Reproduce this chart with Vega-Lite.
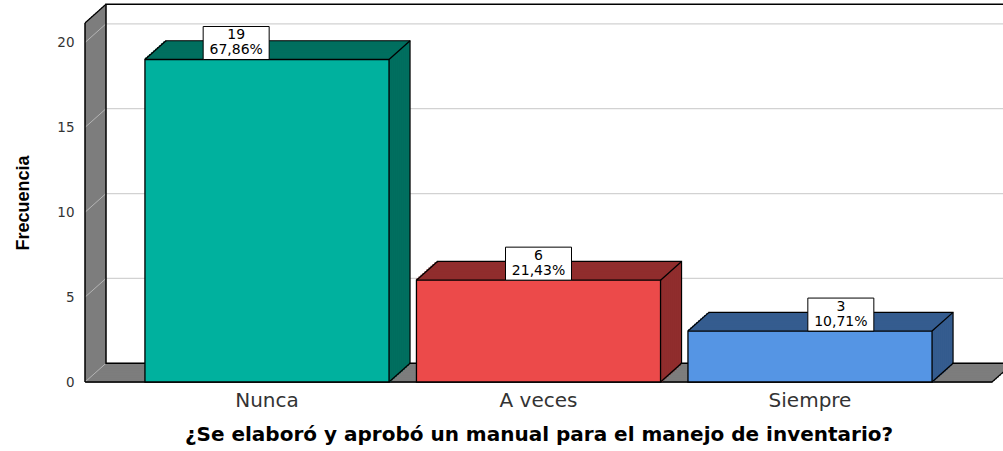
{
  "$schema": "https://vega.github.io/schema/vega-lite/v6.json",
  "width": 907,
  "height": 359,
  "autosize": "none",
  "padding": {"left": 85, "top": 23, "right": 11, "bottom": 69},
  "background": "white",
  "config": {"view": {"stroke": null}, "axis": {"grid": false}},
  "data": {"values": [{}]},
  "datasets": {
    "bars": [
      {"cat": "Nunca", "n": 19, "pct": "67,86%"},
      {"cat": "A veces", "n": 6, "pct": "21,43%"},
      {"cat": "Siempre", "n": 3, "pct": "10,71%"}
    ],
    "ticks": [{"v": 0}, {"v": 5}, {"v": 10}, {"v": 15}, {"v": 20}]
  },
  "resolve": {"scale": {"x": "independent"}},
  "layer": [
    {"mark": {"type": "rect", "fill": "white", "xOffset": 21, "x2Offset": 21, "yOffset": -18.7, "y2Offset": -18.7},
     "encoding": {"x": {"datum": 0, "type": "quantitative", "scale": {"domain": [0, 1], "nice": false, "zero": false}, "axis": null}, "x2": {"datum": 1},
                  "y": {"datum": 0, "type": "quantitative", "scale": {"domain": [0, 21.15], "nice": false},
                        "axis": {"title": "Frecuencia", "values": [0, 5, 10, 15, 20], "domain": false, "ticks": false, "grid": false,
                                 "labelFont": "DejaVu Sans", "labelFontSize": 13.5, "labelColor": "#333333", "labelPadding": 11,
                                 "titleFont": "Liberation Sans", "titleFontSize": 18, "titleFontWeight": "bold", "titleColor": "#000000", "titlePadding": 24}},
                  "y2": {"datum": 21.15}}},
    {"data": {"name": "ticks"}, "mark": {"type": "rule", "stroke": "#d2d2d2", "strokeWidth": 1.3, "xOffset": 21, "x2Offset": 21, "yOffset": -18.7},
     "encoding": {"x": {"datum": 0, "type": "quantitative", "scale": {"domain": [0, 1], "nice": false, "zero": false}, "axis": null}, "x2": {"datum": 1},
                  "y": {"field": "v", "type": "quantitative", "scale": {"domain": [0, 21.15], "nice": false}}}},
    {"mark": {"type": "rule", "stroke": "#7d7d7d", "strokeWidth": 3, "xOffset": 1.5, "yOffset": -1.34, "y2Offset": -1.34}, "encoding": {"x": {"datum": 0, "type": "quantitative", "scale": {"domain": [0, 1], "nice": false, "zero": false}, "axis": null}, "y": {"datum": 0, "type": "quantitative", "scale": {"domain": [0, 21.15], "nice": false}}, "y2": {"datum": 21.15}}},
    {"mark": {"type": "rule", "stroke": "#7d7d7d", "strokeWidth": 3, "xOffset": 3.5, "yOffset": -3.12, "y2Offset": -3.12}, "encoding": {"x": {"datum": 0, "type": "quantitative", "scale": {"domain": [0, 1], "nice": false, "zero": false}, "axis": null}, "y": {"datum": 0, "type": "quantitative", "scale": {"domain": [0, 21.15], "nice": false}}, "y2": {"datum": 21.15}}},
    {"mark": {"type": "rule", "stroke": "#7d7d7d", "strokeWidth": 3, "xOffset": 5.5, "yOffset": -4.9, "y2Offset": -4.9}, "encoding": {"x": {"datum": 0, "type": "quantitative", "scale": {"domain": [0, 1], "nice": false, "zero": false}, "axis": null}, "y": {"datum": 0, "type": "quantitative", "scale": {"domain": [0, 21.15], "nice": false}}, "y2": {"datum": 21.15}}},
    {"mark": {"type": "rule", "stroke": "#7d7d7d", "strokeWidth": 3, "xOffset": 7.5, "yOffset": -6.68, "y2Offset": -6.68}, "encoding": {"x": {"datum": 0, "type": "quantitative", "scale": {"domain": [0, 1], "nice": false, "zero": false}, "axis": null}, "y": {"datum": 0, "type": "quantitative", "scale": {"domain": [0, 21.15], "nice": false}}, "y2": {"datum": 21.15}}},
    {"mark": {"type": "rule", "stroke": "#7d7d7d", "strokeWidth": 3, "xOffset": 9.5, "yOffset": -8.46, "y2Offset": -8.46}, "encoding": {"x": {"datum": 0, "type": "quantitative", "scale": {"domain": [0, 1], "nice": false, "zero": false}, "axis": null}, "y": {"datum": 0, "type": "quantitative", "scale": {"domain": [0, 21.15], "nice": false}}, "y2": {"datum": 21.15}}},
    {"mark": {"type": "rule", "stroke": "#7d7d7d", "strokeWidth": 3, "xOffset": 11.5, "yOffset": -10.24, "y2Offset": -10.24}, "encoding": {"x": {"datum": 0, "type": "quantitative", "scale": {"domain": [0, 1], "nice": false, "zero": false}, "axis": null}, "y": {"datum": 0, "type": "quantitative", "scale": {"domain": [0, 21.15], "nice": false}}, "y2": {"datum": 21.15}}},
    {"mark": {"type": "rule", "stroke": "#7d7d7d", "strokeWidth": 3, "xOffset": 13.5, "yOffset": -12.02, "y2Offset": -12.02}, "encoding": {"x": {"datum": 0, "type": "quantitative", "scale": {"domain": [0, 1], "nice": false, "zero": false}, "axis": null}, "y": {"datum": 0, "type": "quantitative", "scale": {"domain": [0, 21.15], "nice": false}}, "y2": {"datum": 21.15}}},
    {"mark": {"type": "rule", "stroke": "#7d7d7d", "strokeWidth": 3, "xOffset": 15.5, "yOffset": -13.8, "y2Offset": -13.8}, "encoding": {"x": {"datum": 0, "type": "quantitative", "scale": {"domain": [0, 1], "nice": false, "zero": false}, "axis": null}, "y": {"datum": 0, "type": "quantitative", "scale": {"domain": [0, 21.15], "nice": false}}, "y2": {"datum": 21.15}}},
    {"mark": {"type": "rule", "stroke": "#7d7d7d", "strokeWidth": 3, "xOffset": 17.5, "yOffset": -15.58, "y2Offset": -15.58}, "encoding": {"x": {"datum": 0, "type": "quantitative", "scale": {"domain": [0, 1], "nice": false, "zero": false}, "axis": null}, "y": {"datum": 0, "type": "quantitative", "scale": {"domain": [0, 21.15], "nice": false}}, "y2": {"datum": 21.15}}},
    {"mark": {"type": "rule", "stroke": "#7d7d7d", "strokeWidth": 3, "xOffset": 19.5, "yOffset": -17.36, "y2Offset": -17.36}, "encoding": {"x": {"datum": 0, "type": "quantitative", "scale": {"domain": [0, 1], "nice": false, "zero": false}, "axis": null}, "y": {"datum": 0, "type": "quantitative", "scale": {"domain": [0, 21.15], "nice": false}}, "y2": {"datum": 21.15}}},
    {"mark": {"type": "rule", "stroke": "#7d7d7d", "strokeWidth": 3.5, "xOffset": 1, "x2Offset": 1, "yOffset": -0.89}, "encoding": {"x": {"datum": 0, "type": "quantitative", "scale": {"domain": [0, 1], "nice": false, "zero": false}, "axis": null}, "x2": {"datum": 1}, "y": {"datum": 0, "type": "quantitative", "scale": {"domain": [0, 21.15], "nice": false}}}},
    {"mark": {"type": "rule", "stroke": "#7d7d7d", "strokeWidth": 3.5, "xOffset": 3, "x2Offset": 3, "yOffset": -2.67}, "encoding": {"x": {"datum": 0, "type": "quantitative", "scale": {"domain": [0, 1], "nice": false, "zero": false}, "axis": null}, "x2": {"datum": 1}, "y": {"datum": 0, "type": "quantitative", "scale": {"domain": [0, 21.15], "nice": false}}}},
    {"mark": {"type": "rule", "stroke": "#7d7d7d", "strokeWidth": 3.5, "xOffset": 5, "x2Offset": 5, "yOffset": -4.45}, "encoding": {"x": {"datum": 0, "type": "quantitative", "scale": {"domain": [0, 1], "nice": false, "zero": false}, "axis": null}, "x2": {"datum": 1}, "y": {"datum": 0, "type": "quantitative", "scale": {"domain": [0, 21.15], "nice": false}}}},
    {"mark": {"type": "rule", "stroke": "#7d7d7d", "strokeWidth": 3.5, "xOffset": 7, "x2Offset": 7, "yOffset": -6.23}, "encoding": {"x": {"datum": 0, "type": "quantitative", "scale": {"domain": [0, 1], "nice": false, "zero": false}, "axis": null}, "x2": {"datum": 1}, "y": {"datum": 0, "type": "quantitative", "scale": {"domain": [0, 21.15], "nice": false}}}},
    {"mark": {"type": "rule", "stroke": "#7d7d7d", "strokeWidth": 3.5, "xOffset": 9, "x2Offset": 9, "yOffset": -8.01}, "encoding": {"x": {"datum": 0, "type": "quantitative", "scale": {"domain": [0, 1], "nice": false, "zero": false}, "axis": null}, "x2": {"datum": 1}, "y": {"datum": 0, "type": "quantitative", "scale": {"domain": [0, 21.15], "nice": false}}}},
    {"mark": {"type": "rule", "stroke": "#7d7d7d", "strokeWidth": 3.5, "xOffset": 11, "x2Offset": 11, "yOffset": -9.8}, "encoding": {"x": {"datum": 0, "type": "quantitative", "scale": {"domain": [0, 1], "nice": false, "zero": false}, "axis": null}, "x2": {"datum": 1}, "y": {"datum": 0, "type": "quantitative", "scale": {"domain": [0, 21.15], "nice": false}}}},
    {"mark": {"type": "rule", "stroke": "#7d7d7d", "strokeWidth": 3.5, "xOffset": 13, "x2Offset": 13, "yOffset": -11.58}, "encoding": {"x": {"datum": 0, "type": "quantitative", "scale": {"domain": [0, 1], "nice": false, "zero": false}, "axis": null}, "x2": {"datum": 1}, "y": {"datum": 0, "type": "quantitative", "scale": {"domain": [0, 21.15], "nice": false}}}},
    {"mark": {"type": "rule", "stroke": "#7d7d7d", "strokeWidth": 3.5, "xOffset": 15, "x2Offset": 15, "yOffset": -13.36}, "encoding": {"x": {"datum": 0, "type": "quantitative", "scale": {"domain": [0, 1], "nice": false, "zero": false}, "axis": null}, "x2": {"datum": 1}, "y": {"datum": 0, "type": "quantitative", "scale": {"domain": [0, 21.15], "nice": false}}}},
    {"mark": {"type": "rule", "stroke": "#7d7d7d", "strokeWidth": 3.5, "xOffset": 17, "x2Offset": 17, "yOffset": -15.14}, "encoding": {"x": {"datum": 0, "type": "quantitative", "scale": {"domain": [0, 1], "nice": false, "zero": false}, "axis": null}, "x2": {"datum": 1}, "y": {"datum": 0, "type": "quantitative", "scale": {"domain": [0, 21.15], "nice": false}}}},
    {"mark": {"type": "rule", "stroke": "#7d7d7d", "strokeWidth": 3, "xOffset": 19, "x2Offset": 19, "yOffset": -16.92}, "encoding": {"x": {"datum": 0, "type": "quantitative", "scale": {"domain": [0, 1], "nice": false, "zero": false}, "axis": null}, "x2": {"datum": 1}, "y": {"datum": 0, "type": "quantitative", "scale": {"domain": [0, 21.15], "nice": false}}}},
    {"data": {"name": "ticks"}, "mark": {"type": "rule", "stroke": "#b5b5b5", "strokeWidth": 1, "x2Offset": 21, "y2Offset": -18.7},
     "encoding": {"x": {"datum": 0, "type": "quantitative", "scale": {"domain": [0, 1], "nice": false, "zero": false}, "axis": null}, "x2": {"datum": 0},
                  "y": {"field": "v", "type": "quantitative", "scale": {"domain": [0, 21.15], "nice": false}}, "y2": {"field": "v"}}},
    {"mark": {"type": "rect", "filled": false, "stroke": "#000", "strokeWidth": 1.5, "xOffset": 21, "x2Offset": 21, "yOffset": -18.7, "y2Offset": -18.7},
     "encoding": {"x": {"datum": 0, "type": "quantitative", "scale": {"domain": [0, 1], "nice": false, "zero": false}, "axis": null}, "x2": {"datum": 1},
                  "y": {"datum": 0, "type": "quantitative", "scale": {"domain": [0, 21.15], "nice": false}}, "y2": {"datum": 21.15}}},
    {"mark": {"type": "rule", "stroke": "#000", "strokeWidth": 1.2, "x2Offset": 21, "y2Offset": -18.7},
     "encoding": {"x": {"datum": 0, "type": "quantitative", "scale": {"domain": [0, 1], "nice": false, "zero": false}, "axis": null}, "x2": {"datum": 0},
                  "y": {"datum": 21.15, "type": "quantitative", "scale": {"domain": [0, 21.15], "nice": false}}, "y2": {"datum": 21.15}}},
    {"mark": {"type": "rule", "stroke": "#000", "strokeWidth": 1.2, "x2Offset": 21, "y2Offset": -18.7},
     "encoding": {"x": {"datum": 1, "type": "quantitative", "scale": {"domain": [0, 1], "nice": false, "zero": false}, "axis": null}, "x2": {"datum": 1},
                  "y": {"datum": 0, "type": "quantitative", "scale": {"domain": [0, 21.15], "nice": false}}, "y2": {"datum": 0}}},
    {"mark": {"type": "rule", "stroke": "#000", "strokeWidth": 1.5},
     "encoding": {"x": {"datum": 0, "type": "quantitative", "scale": {"domain": [0, 1], "nice": false, "zero": false}, "axis": null}, "x2": {"datum": 1},
                  "y": {"datum": 0, "type": "quantitative", "scale": {"domain": [0, 21.15], "nice": false}}}},
    {"mark": {"type": "rule", "stroke": "#000", "strokeWidth": 1.5},
     "encoding": {"x": {"datum": 0, "type": "quantitative", "scale": {"domain": [0, 1], "nice": false, "zero": false}, "axis": null},
                  "y": {"datum": 0, "type": "quantitative", "scale": {"domain": [0, 21.15], "nice": false}}, "y2": {"datum": 21.15}}},
    {"data": {"name": "bars"}, "mark": {"type": "bar", "stroke": "#000", "strokeWidth": 1.2, "xOffset": 21, "x2Offset": 21, "yOffset": -18.7, "y2Offset": -18.7},
     "encoding": {"x": {"field": "cat", "type": "nominal", "sort": ["Nunca", "A veces", "Siempre"], "scale": {"paddingInner": 0.101, "paddingOuter": 0.2208}, "axis": null},
                  "y": {"field": "n", "type": "quantitative", "scale": {"domain": [0, 21.15], "nice": false}},
                  "fill": {"field": "cat", "type": "nominal", "scale": {"domain": ["Nunca", "A veces", "Siempre"], "range": ["#006f5f", "#902d2d", "#355c8f"]}, "legend": null}}},
    {"data": {"name": "bars"}, "mark": {"type": "bar", "strokeWidth": 2, "xOffset": 19, "x2Offset": 19, "yOffset": -16.92, "y2Offset": -16.92}, "encoding": {"x": {"field": "cat", "type": "nominal", "sort": ["Nunca", "A veces", "Siempre"], "scale": {"paddingInner": 0.101, "paddingOuter": 0.2208}, "axis": null}, "y": {"field": "n", "type": "quantitative", "scale": {"domain": [0, 21.15], "nice": false}}, "fill": {"field": "cat", "type": "nominal", "scale": {"domain": ["Nunca", "A veces", "Siempre"], "range": ["#006f5f", "#902d2d", "#355c8f"]}, "legend": null}, "stroke": {"field": "cat", "type": "nominal", "scale": {"domain": ["Nunca", "A veces", "Siempre"], "range": ["#006f5f", "#902d2d", "#355c8f"]}, "legend": null}}},
    {"data": {"name": "bars"}, "mark": {"type": "bar", "strokeWidth": 2, "xOffset": 17, "x2Offset": 17, "yOffset": -15.14, "y2Offset": -15.14}, "encoding": {"x": {"field": "cat", "type": "nominal", "sort": ["Nunca", "A veces", "Siempre"], "scale": {"paddingInner": 0.101, "paddingOuter": 0.2208}, "axis": null}, "y": {"field": "n", "type": "quantitative", "scale": {"domain": [0, 21.15], "nice": false}}, "fill": {"field": "cat", "type": "nominal", "scale": {"domain": ["Nunca", "A veces", "Siempre"], "range": ["#006f5f", "#902d2d", "#355c8f"]}, "legend": null}, "stroke": {"field": "cat", "type": "nominal", "scale": {"domain": ["Nunca", "A veces", "Siempre"], "range": ["#006f5f", "#902d2d", "#355c8f"]}, "legend": null}}},
    {"data": {"name": "bars"}, "mark": {"type": "bar", "strokeWidth": 2, "xOffset": 15, "x2Offset": 15, "yOffset": -13.36, "y2Offset": -13.36}, "encoding": {"x": {"field": "cat", "type": "nominal", "sort": ["Nunca", "A veces", "Siempre"], "scale": {"paddingInner": 0.101, "paddingOuter": 0.2208}, "axis": null}, "y": {"field": "n", "type": "quantitative", "scale": {"domain": [0, 21.15], "nice": false}}, "fill": {"field": "cat", "type": "nominal", "scale": {"domain": ["Nunca", "A veces", "Siempre"], "range": ["#006f5f", "#902d2d", "#355c8f"]}, "legend": null}, "stroke": {"field": "cat", "type": "nominal", "scale": {"domain": ["Nunca", "A veces", "Siempre"], "range": ["#006f5f", "#902d2d", "#355c8f"]}, "legend": null}}},
    {"data": {"name": "bars"}, "mark": {"type": "bar", "strokeWidth": 2, "xOffset": 13, "x2Offset": 13, "yOffset": -11.58, "y2Offset": -11.58}, "encoding": {"x": {"field": "cat", "type": "nominal", "sort": ["Nunca", "A veces", "Siempre"], "scale": {"paddingInner": 0.101, "paddingOuter": 0.2208}, "axis": null}, "y": {"field": "n", "type": "quantitative", "scale": {"domain": [0, 21.15], "nice": false}}, "fill": {"field": "cat", "type": "nominal", "scale": {"domain": ["Nunca", "A veces", "Siempre"], "range": ["#006f5f", "#902d2d", "#355c8f"]}, "legend": null}, "stroke": {"field": "cat", "type": "nominal", "scale": {"domain": ["Nunca", "A veces", "Siempre"], "range": ["#006f5f", "#902d2d", "#355c8f"]}, "legend": null}}},
    {"data": {"name": "bars"}, "mark": {"type": "bar", "strokeWidth": 2, "xOffset": 11, "x2Offset": 11, "yOffset": -9.8, "y2Offset": -9.8}, "encoding": {"x": {"field": "cat", "type": "nominal", "sort": ["Nunca", "A veces", "Siempre"], "scale": {"paddingInner": 0.101, "paddingOuter": 0.2208}, "axis": null}, "y": {"field": "n", "type": "quantitative", "scale": {"domain": [0, 21.15], "nice": false}}, "fill": {"field": "cat", "type": "nominal", "scale": {"domain": ["Nunca", "A veces", "Siempre"], "range": ["#006f5f", "#902d2d", "#355c8f"]}, "legend": null}, "stroke": {"field": "cat", "type": "nominal", "scale": {"domain": ["Nunca", "A veces", "Siempre"], "range": ["#006f5f", "#902d2d", "#355c8f"]}, "legend": null}}},
    {"data": {"name": "bars"}, "mark": {"type": "bar", "strokeWidth": 2, "xOffset": 9, "x2Offset": 9, "yOffset": -8.01, "y2Offset": -8.01}, "encoding": {"x": {"field": "cat", "type": "nominal", "sort": ["Nunca", "A veces", "Siempre"], "scale": {"paddingInner": 0.101, "paddingOuter": 0.2208}, "axis": null}, "y": {"field": "n", "type": "quantitative", "scale": {"domain": [0, 21.15], "nice": false}}, "fill": {"field": "cat", "type": "nominal", "scale": {"domain": ["Nunca", "A veces", "Siempre"], "range": ["#006f5f", "#902d2d", "#355c8f"]}, "legend": null}, "stroke": {"field": "cat", "type": "nominal", "scale": {"domain": ["Nunca", "A veces", "Siempre"], "range": ["#006f5f", "#902d2d", "#355c8f"]}, "legend": null}}},
    {"data": {"name": "bars"}, "mark": {"type": "bar", "strokeWidth": 2, "xOffset": 7, "x2Offset": 7, "yOffset": -6.23, "y2Offset": -6.23}, "encoding": {"x": {"field": "cat", "type": "nominal", "sort": ["Nunca", "A veces", "Siempre"], "scale": {"paddingInner": 0.101, "paddingOuter": 0.2208}, "axis": null}, "y": {"field": "n", "type": "quantitative", "scale": {"domain": [0, 21.15], "nice": false}}, "fill": {"field": "cat", "type": "nominal", "scale": {"domain": ["Nunca", "A veces", "Siempre"], "range": ["#006f5f", "#902d2d", "#355c8f"]}, "legend": null}, "stroke": {"field": "cat", "type": "nominal", "scale": {"domain": ["Nunca", "A veces", "Siempre"], "range": ["#006f5f", "#902d2d", "#355c8f"]}, "legend": null}}},
    {"data": {"name": "bars"}, "mark": {"type": "bar", "strokeWidth": 2, "xOffset": 5, "x2Offset": 5, "yOffset": -4.45, "y2Offset": -4.45}, "encoding": {"x": {"field": "cat", "type": "nominal", "sort": ["Nunca", "A veces", "Siempre"], "scale": {"paddingInner": 0.101, "paddingOuter": 0.2208}, "axis": null}, "y": {"field": "n", "type": "quantitative", "scale": {"domain": [0, 21.15], "nice": false}}, "fill": {"field": "cat", "type": "nominal", "scale": {"domain": ["Nunca", "A veces", "Siempre"], "range": ["#006f5f", "#902d2d", "#355c8f"]}, "legend": null}, "stroke": {"field": "cat", "type": "nominal", "scale": {"domain": ["Nunca", "A veces", "Siempre"], "range": ["#006f5f", "#902d2d", "#355c8f"]}, "legend": null}}},
    {"data": {"name": "bars"}, "mark": {"type": "bar", "strokeWidth": 2, "xOffset": 3, "x2Offset": 3, "yOffset": -2.67, "y2Offset": -2.67}, "encoding": {"x": {"field": "cat", "type": "nominal", "sort": ["Nunca", "A veces", "Siempre"], "scale": {"paddingInner": 0.101, "paddingOuter": 0.2208}, "axis": null}, "y": {"field": "n", "type": "quantitative", "scale": {"domain": [0, 21.15], "nice": false}}, "fill": {"field": "cat", "type": "nominal", "scale": {"domain": ["Nunca", "A veces", "Siempre"], "range": ["#006f5f", "#902d2d", "#355c8f"]}, "legend": null}, "stroke": {"field": "cat", "type": "nominal", "scale": {"domain": ["Nunca", "A veces", "Siempre"], "range": ["#006f5f", "#902d2d", "#355c8f"]}, "legend": null}}},
    {"data": {"name": "bars"}, "mark": {"type": "bar", "strokeWidth": 2, "xOffset": 1, "x2Offset": 1, "yOffset": -0.89, "y2Offset": -0.89}, "encoding": {"x": {"field": "cat", "type": "nominal", "sort": ["Nunca", "A veces", "Siempre"], "scale": {"paddingInner": 0.101, "paddingOuter": 0.2208}, "axis": null}, "y": {"field": "n", "type": "quantitative", "scale": {"domain": [0, 21.15], "nice": false}}, "fill": {"field": "cat", "type": "nominal", "scale": {"domain": ["Nunca", "A veces", "Siempre"], "range": ["#006f5f", "#902d2d", "#355c8f"]}, "legend": null}, "stroke": {"field": "cat", "type": "nominal", "scale": {"domain": ["Nunca", "A veces", "Siempre"], "range": ["#006f5f", "#902d2d", "#355c8f"]}, "legend": null}}},
    {"data": {"name": "bars"}, "mark": {"type": "bar", "stroke": "#000", "strokeWidth": 1.3},
     "encoding": {"x": {"field": "cat", "type": "nominal", "sort": ["Nunca", "A veces", "Siempre"], "scale": {"paddingInner": 0.101, "paddingOuter": 0.2208},
                        "axis": {"title": "¿Se elaboró y aprobó un manual para el manejo de inventario?", "labelAngle": 0, "domain": false, "ticks": false,
                                 "labelFont": "DejaVu Sans", "labelFontSize": 20, "labelColor": "#333333", "labelPadding": 8,
                                 "titleFont": "DejaVu Sans", "titleFontSize": 20, "titleFontWeight": "bold", "titleColor": "#000000", "titlePadding": 14}},
                  "y": {"field": "n", "type": "quantitative", "scale": {"domain": [0, 21.15], "nice": false}},
                  "color": {"field": "cat", "type": "nominal", "scale": {"domain": ["Nunca", "A veces", "Siempre"], "range": ["#00b19e", "#ec4a4a", "#5595e4"]}, "legend": null}}},
    {"data": {"name": "bars"}, "mark": {"type": "rule", "stroke": "#000", "strokeWidth": 1.3, "x2Offset": 21, "y2Offset": -18.7},
     "encoding": {"x": {"field": "cat", "type": "nominal", "sort": ["Nunca", "A veces", "Siempre"], "bandPosition": 0, "scale": {"paddingInner": 0.101, "paddingOuter": 0.2208}, "axis": null},
                  "x2": {"field": "cat", "bandPosition": 0},
                  "y": {"field": "n", "type": "quantitative", "scale": {"domain": [0, 21.15], "nice": false}}, "y2": {"field": "n"}}},
    {"data": {"name": "bars"}, "mark": {"type": "rule", "stroke": "#000", "strokeWidth": 1.3, "x2Offset": 21, "y2Offset": -18.7},
     "encoding": {"x": {"field": "cat", "type": "nominal", "sort": ["Nunca", "A veces", "Siempre"], "bandPosition": 1, "scale": {"paddingInner": 0.101, "paddingOuter": 0.2208}, "axis": null},
                  "x2": {"field": "cat", "bandPosition": 1},
                  "y": {"field": "n", "type": "quantitative", "scale": {"domain": [0, 21.15], "nice": false}}, "y2": {"field": "n"}}},
    {"data": {"name": "bars"}, "mark": {"type": "rule", "stroke": "#000", "strokeWidth": 1.3, "x2Offset": 21, "y2Offset": -18.7},
     "encoding": {"x": {"field": "cat", "type": "nominal", "sort": ["Nunca", "A veces", "Siempre"], "bandPosition": 1, "scale": {"paddingInner": 0.101, "paddingOuter": 0.2208}, "axis": null},
                  "x2": {"field": "cat", "bandPosition": 1},
                  "y": {"datum": 0, "type": "quantitative", "scale": {"domain": [0, 21.15], "nice": false}}, "y2": {"datum": 0}}},
    {"data": {"name": "bars"}, "mark": {"type": "point", "shape": "M-1,-0.5H1V0.5H-1Z", "size": 4356, "filled": true, "fill": "white", "stroke": "#000", "strokeWidth": 1, "opacity": 1, "yOffset": -16.5},
     "encoding": {"x": {"field": "cat", "type": "nominal", "sort": ["Nunca", "A veces", "Siempre"], "scale": {"paddingInner": 0.101, "paddingOuter": 0.2208}, "axis": null},
                  "y": {"field": "n", "type": "quantitative", "scale": {"domain": [0, 21.15], "nice": false}}}},
    {"data": {"name": "bars"}, "mark": {"type": "text", "font": "DejaVu Sans", "fontSize": 14, "color": "#000", "baseline": "middle", "yOffset": -24},
     "encoding": {"x": {"field": "cat", "type": "nominal", "sort": ["Nunca", "A veces", "Siempre"], "scale": {"paddingInner": 0.101, "paddingOuter": 0.2208}, "axis": null},
                  "y": {"field": "n", "type": "quantitative", "scale": {"domain": [0, 21.15], "nice": false}},
                  "text": {"field": "n", "type": "quantitative"}}},
    {"data": {"name": "bars"}, "mark": {"type": "text", "font": "DejaVu Sans", "fontSize": 14, "color": "#000", "baseline": "middle", "yOffset": -9},
     "encoding": {"x": {"field": "cat", "type": "nominal", "sort": ["Nunca", "A veces", "Siempre"], "scale": {"paddingInner": 0.101, "paddingOuter": 0.2208}, "axis": null},
                  "y": {"field": "n", "type": "quantitative", "scale": {"domain": [0, 21.15], "nice": false}},
                  "text": {"field": "pct", "type": "nominal"}}}
  ]
}
